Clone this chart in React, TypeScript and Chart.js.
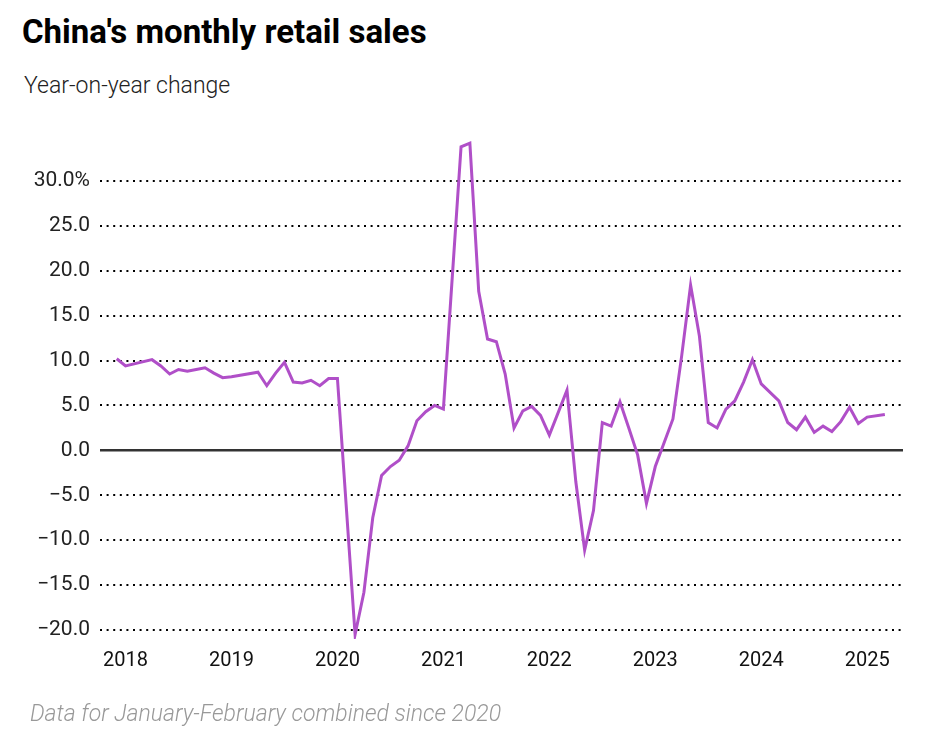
import React, { useEffect, useRef } from "react";
import { Chart, registerables } from "chart.js";

Chart.register(...registerables);

// Month-end observations (year, month) and year-on-year change, %
const years: number[] = [
  2017, 2017,
  2018, 2018, 2018, 2018, 2018, 2018, 2018, 2018, 2018, 2018,
  2019, 2019, 2019, 2019, 2019, 2019, 2019, 2019, 2019, 2019,
  2020, 2020, 2020, 2020, 2020, 2020, 2020, 2020, 2020, 2020, 2020,
  2021, 2021, 2021, 2021, 2021, 2021, 2021, 2021, 2021, 2021, 2021,
  2022, 2022, 2022, 2022, 2022, 2022, 2022, 2022, 2022, 2022, 2022,
  2023, 2023, 2023, 2023, 2023, 2023, 2023, 2023, 2023, 2023, 2023,
  2024, 2024, 2024, 2024, 2024, 2024, 2024, 2024, 2024, 2024, 2024,
  2025,
];
const months: number[] = [
  11, 12,
  3, 4, 5, 6, 7, 8, 9, 10, 11, 12,
  3, 4, 5, 6, 7, 8, 9, 10, 11, 12,
  2, 3, 4, 5, 6, 7, 8, 9, 10, 11, 12,
  2, 3, 4, 5, 6, 7, 8, 9, 10, 11, 12,
  2, 3, 4, 5, 6, 7, 8, 9, 10, 11, 12,
  2, 3, 4, 5, 6, 7, 8, 9, 10, 11, 12,
  2, 3, 4, 5, 6, 7, 8, 9, 10, 11, 12,
  2,
];
const values: number[] = [
  10.2, 9.4,
  10.1, 9.4, 8.5, 9.0, 8.8, 9.0, 9.2, 8.6, 8.1, 8.2,
  8.7, 7.2, 8.6, 9.8, 7.6, 7.5, 7.8, 7.2, 8.0, 8.0,
  -20.5, -15.8, -7.5, -2.8, -1.8, -1.1, 0.5, 3.3, 4.3, 5.0, 4.6,
  33.8, 34.2, 17.7, 12.4, 12.1, 8.5, 2.5, 4.4, 4.9, 3.9, 1.7,
  6.7, -3.5, -11.1, -6.7, 3.1, 2.7, 5.4, 2.5, -0.5, -5.9, -1.8,
  3.5, 10.6, 18.4, 12.7, 3.1, 2.5, 4.6, 5.5, 7.6, 10.1, 7.4,
  5.5, 3.1, 2.3, 3.7, 2.0, 2.7, 2.1, 3.2, 4.8, 3.0, 3.7,
  4.0,
];
const xTickYears: number[] = [2018, 2019, 2020, 2021, 2022, 2023, 2024, 2025];
const yTickValues: number[] = [-20, -15, -10, -5, 0, 5, 10, 15, 20, 25, 30];

const FONT = "Roboto, 'Noto Sans', Arial, sans-serif";

export default function App() {
  const canvasRef = useRef<HTMLCanvasElement | null>(null);

  useEffect(() => {
    if (!canvasRef.current) return;
    const points = values.map((v, i) => ({ x: years[i] + months[i] / 12, y: v }));
    const chart = new Chart(canvasRef.current, {
      type: "line",
      data: {
        datasets: [
          {
            data: points,
            borderColor: "#B04FC8",
            borderWidth: 3,
            pointRadius: 0,
            tension: 0,
            fill: false,
          },
        ],
      },
      options: {
        animation: false,
        responsive: false,
        maintainAspectRatio: false,
        layout: { padding: { left: 0, right: 39, top: 136, bottom: 63 } },
        plugins: { legend: { display: false }, tooltip: { enabled: false }, title: { display: false } },
        scales: {
          x: {
            type: "linear",
            min: 2017.759,
            max: 2025.338,
            afterBuildTicks: (s: any) => {
              s.ticks = xTickYears.map((v) => ({ value: v }));
            },
            afterFit: (s: any) => {
              s.height = 40;
            },
            grid: { display: false, drawTicks: false },
            border: { display: false },
            ticks: {
              padding: 10,
              autoSkip: false,
              maxRotation: 0,
              color: "#111",
              font: { family: FONT, size: 20 },
              callback: (v: any) => String(v),
            },
          },
          y: {
            type: "linear",
            min: -21,
            max: 35,
            afterBuildTicks: (s: any) => {
              s.ticks = yTickValues.map((v) => ({ value: v }));
            },
            afterFit: (s: any) => {
              s.width = 100;
            },
            grid: {
              drawTicks: false,
              color: (c: any) => (c.tick && c.tick.value === 0 ? "#333" : "#000"),
              lineWidth: (c: any) => (c.tick && c.tick.value === 0 ? 2.5 : 2),
            },
            border: {
              display: false,
              dash: (c: any) => (c.tick && c.tick.value === 0 ? [] : [2, 4.6]),
            },
            ticks: {
              padding: 10,
              color: "#222",
              font: { family: FONT, size: 21 },
              callback: (v: any) => {
                const n = Number(v);
                const s = Math.abs(n).toFixed(1);
                const t = (n < 0 ? "\u2212" : "") + s;
                return n === 30 ? t + "%" : t;
              },
            },
          },
        },
      },
    });
    return () => chart.destroy();
  }, []);

  return (
    <div style={{ position: "fixed", left: 0, top: 0, width: 942, height: 742, background: "#fff", overflow: "hidden" }}>
      <div
        style={{
          position: "absolute",
          left: 22,
          top: 15,
          fontFamily: FONT,
          fontWeight: 700,
          fontSize: 33,
          lineHeight: "33px",
          color: "#000",
          whiteSpace: "nowrap",
        }}
      >
        China's monthly retail sales
      </div>
      <div
        style={{
          position: "absolute",
          left: 24,
          top: 74,
          fontFamily: FONT,
          fontWeight: 300,
          fontSize: 23,
          lineHeight: "23px",
          color: "#222",
          whiteSpace: "nowrap",
        }}
      >
        Year-on-year change
      </div>
      <canvas ref={canvasRef} width={942} height={742} style={{ position: "absolute", left: 0, top: 0, width: 942, height: 742 }} />
      <div
        style={{
          position: "absolute",
          left: 30,
          top: 702,
          fontFamily: FONT,
          fontWeight: 300,
          fontStyle: "italic",
          fontSize: 23,
          lineHeight: "23px",
          color: "#999",
          whiteSpace: "nowrap",
        }}
      >
        Data for January-February combined since 2020
      </div>
    </div>
  );
}
